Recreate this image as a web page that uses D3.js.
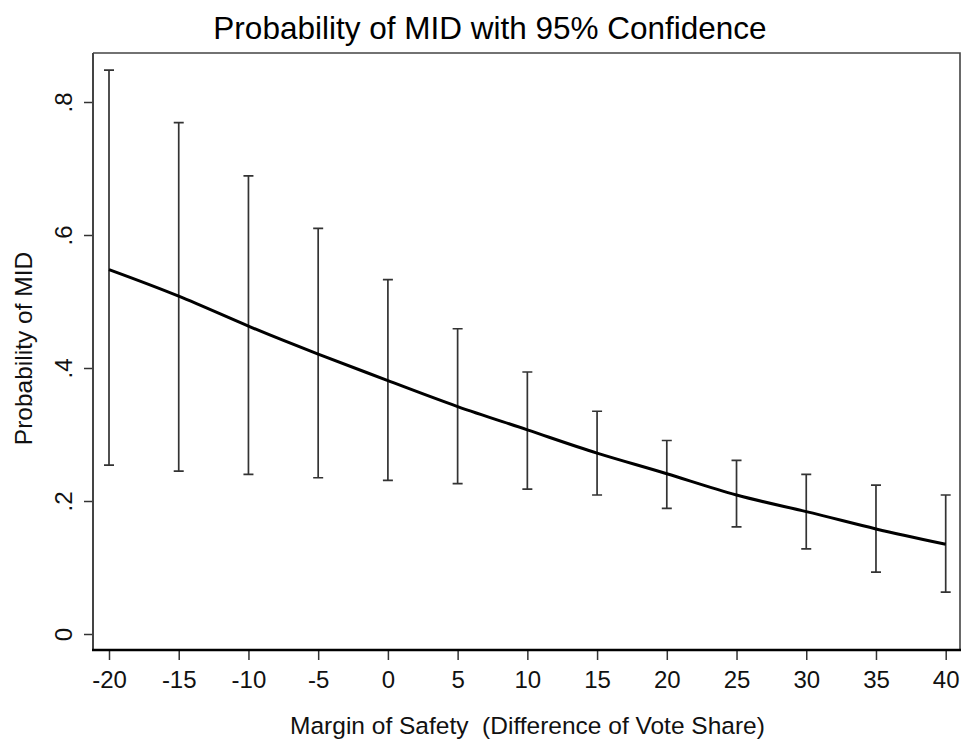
<!DOCTYPE html>
<html>
<head>
<meta charset="utf-8">
<script src="https://cdn.jsdelivr.net/npm/d3@7"></script>
<style>
  body { margin: 0; background: #fff; }
  svg { display: block; font-family: "Liberation Sans", Arial, sans-serif; }
</style>
</head>
<body>
<div id="vis"></div>
<script>
// data
const MARGIN = [-20, -15, -10, -5, 0, 5, 10, 15, 20, 25, 30, 35, 40];
const PROB = [0.548, 0.508, 0.463, 0.421, 0.381, 0.342, 0.307, 0.272, 0.241, 0.209, 0.184, 0.158, 0.135];
const UPPER = [0.848, 0.769, 0.689, 0.610, 0.533, 0.459, 0.394, 0.335, 0.291, 0.261, 0.240, 0.224, 0.209];
const LOWER = [0.254, 0.245, 0.240, 0.235, 0.231, 0.226, 0.218, 0.209, 0.189, 0.161, 0.128, 0.093, 0.063];
const Y_TICKS = [0, 0.2, 0.4, 0.6, 0.8];
const Y_TICK_LABELS = ["0", ".2", ".4", ".6", ".8"];

// frame
const FRAME_WIDTH = 962;
const FRAME_HEIGHT = 741;
const PLOT = {left: 93, right: 960, top: 53, bottom: 650};

const data = MARGIN.map((m, i) => ({x: m, p: PROB[i], hi: UPPER[i], lo: LOWER[i]}));

const svg = d3.select("#vis")
  .append("svg")
  .attr("width", FRAME_WIDTH)
  .attr("height", FRAME_HEIGHT);

const X_SCALE = d3.scaleLinear()
  .domain([-20, 40])
  .range([109, 945.7]);

const Y_SCALE = d3.scaleLinear()
  .domain([0, 0.8])
  .range([634, 102]);

// top and right border
svg.append("path")
  .attr("d", `M${PLOT.left},${PLOT.top}H${PLOT.right}V${PLOT.bottom}`)
  .attr("fill", "none")
  .attr("stroke", "#444")
  .attr("stroke-width", 1.6);

// error bars
const bars = svg.append("g")
  .attr("stroke", "#333")
  .attr("stroke-width", 1.7)
  .attr("fill", "none");

bars.selectAll("path")
  .data(data)
  .join("path")
  .attr("d", d => {
    const x = X_SCALE(d.x), y1 = Y_SCALE(d.hi), y0 = Y_SCALE(d.lo);
    return `M${x - 5},${y1}H${x + 5}M${x},${y1}V${y0}M${x - 5},${y0}H${x + 5}`;
  });

// fitted line
svg.append("path")
  .datum(data)
  .attr("fill", "none")
  .attr("stroke", "#000")
  .attr("stroke-width", 3)
  .attr("d", d3.line()
    .x(d => X_SCALE(d.x))
    .y(d => Y_SCALE(d.p))
    .curve(d3.curveNatural));

// y axis
const yAxis = svg.append("g")
  .attr("transform", `translate(${PLOT.left},0)`)
  .call(d3.axisLeft(Y_SCALE)
    .tickValues(Y_TICKS)
    .tickFormat((d, i) => Y_TICK_LABELS[i])
    .tickSize(9)
    .tickSizeOuter(0)
    .tickPadding(0));
yAxis.select(".domain").remove();
yAxis.selectAll(".tick line").attr("stroke", "#333").attr("stroke-width", 1.5);
yAxis.selectAll(".tick text")
  .attr("x", null).attr("dy", null)
  .attr("font-size", 24)
  .attr("fill", "#111")
  .attr("text-anchor", "middle")
  .attr("transform", "translate(-21,0) rotate(-90)");

svg.append("line")
  .attr("x1", PLOT.left).attr("x2", PLOT.left)
  .attr("y1", PLOT.top).attr("y2", PLOT.bottom)
  .attr("stroke", "#444")
  .attr("stroke-width", 2);

// x axis
const xAxis = svg.append("g")
  .attr("transform", `translate(0,${PLOT.bottom})`)
  .call(d3.axisBottom(X_SCALE)
    .tickValues(MARGIN)
    .tickFormat(d3.format("d"))
    .tickSize(10)
    .tickSizeOuter(0)
    .tickPadding(6));
xAxis.select(".domain").remove();
xAxis.selectAll(".tick line").attr("stroke", "#333").attr("stroke-width", 1.5);
xAxis.selectAll(".tick text")
  .attr("font-size", 24)
  .attr("fill", "#111")
  .attr("dy", "0.9em")
  .text(d => d < 0 ? "-" + Math.abs(d) : d);

svg.append("line")
  .attr("x1", PLOT.left - 1).attr("x2", PLOT.right + 1)
  .attr("y1", PLOT.bottom).attr("y2", PLOT.bottom)
  .attr("stroke", "#000")
  .attr("stroke-width", 2.7);

// titles
svg.append("text")
  .attr("x", 490)
  .attr("y", 39)
  .attr("text-anchor", "middle")
  .attr("font-size", 31.5)
  .attr("fill", "#000")
  .text("Probability of MID with 95% Confidence");

svg.append("text")
  .attr("x", 527.5)
  .attr("y", 734)
  .attr("text-anchor", "middle")
  .attr("font-size", 24.5)
  .attr("fill", "#111")
  .attr("xml:space", "preserve")
  .style("white-space", "pre")
  .text("Margin of Safety  (Difference of Vote Share)");

svg.append("text")
  .attr("transform", "translate(32,348.5) rotate(-90)")
  .attr("text-anchor", "middle")
  .attr("font-size", 24.5)
  .attr("fill", "#111")
  .text("Probability of MID");
</script>
</body>
</html>
